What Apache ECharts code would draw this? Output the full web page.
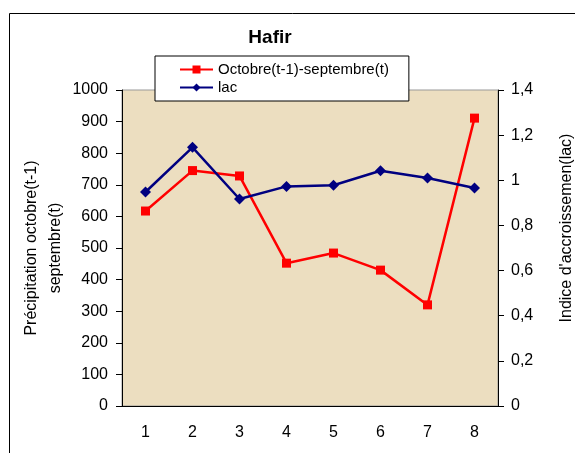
<!DOCTYPE html>
<html><head><meta charset="utf-8">
<script src="https://cdn.jsdelivr.net/npm/echarts@6/dist/echarts.min.js"></script>
<style>html,body{margin:0;padding:0;background:#fff}#c{width:575px;height:453px}</style>
</head><body><div id="c"></div>
<script>
const categories = ['1','2','3','4','5','6','7','8'];
const precipitation = [617, 745, 728, 452, 484, 430, 320, 911];
const lac = [0.948, 1.146, 0.917, 0.973, 0.978, 1.042, 1.010, 0.966];
const seriesNames = ['Octobre(t-1)-septembre(t)', 'lac'];
const leftAxisName = 'Précipitation octobre(t-1)\nseptembre(t)';
const rightAxisName = "Indice d'accroissemen(lac)";

const FONT = '"Liberation Sans", Arial, sans-serif';
const chart = echarts.init(document.getElementById('c'), null, {renderer: 'canvas'});
chart.setOption({
  backgroundColor: '#fff',
  animation: false,
  textStyle: {fontFamily: FONT},
  title: {
    text: 'Hafir', left: 265, top: 23, textAlign: 'center',
    textStyle: {fontFamily: FONT, fontSize: 19, fontWeight: 'bold', color: '#000'}
  },
  graphic: [{
    type: 'rect', left: 7, top: 11, z: -1,
    shape: {x: 0, y: 0, width: 620, height: 500},
    style: {fill: 'none', stroke: '#000', lineWidth: 1}
  }],
  legend: {
    orient: 'vertical', left: 155, top: 56,
    padding: [6, 20, 6, 24],
    itemGap: 3, itemWidth: 33, itemHeight: 10,
    backgroundColor: '#fff', borderColor: '#000', borderWidth: 1,
    textStyle: {fontFamily: FONT, fontSize: 15, color: '#000'},
    data: seriesNames
  },
  grid: {left: 122, right: 77, top: 90, bottom: 47, show: true,
    containLabel: false, outerBoundsMode: 'none',
    backgroundColor: '#ECDEC0', borderColor: '#999', borderWidth: 1},
  xAxis: {
    type: 'category', data: categories, boundaryGap: true,
    axisLine: {lineStyle: {color: '#000', width: 1}},
    axisTick: {length: 6, lineStyle: {color: '#000'}},
    axisLabel: {color: '#000', fontSize: 16, fontFamily: FONT, margin: 19},
    splitLine: {show: false}
  },
  yAxis: [{
    type: 'value', min: 0, max: 1000, interval: 100,
    name: leftAxisName, nameLocation: 'middle', nameGap: 54, nameRotate: 90,
    nameMoveOverlap: false,
    nameTextStyle: {fontFamily: FONT, fontSize: 16, color: '#000', lineHeight: 24},
    axisLine: {show: true, lineStyle: {color: '#000'}},
    axisTick: {show: true, length: 6, lineStyle: {color: '#000'}},
    axisLabel: {color: '#000', fontSize: 16, fontFamily: FONT, margin: 14,
      formatter: v => String(v)},
    splitLine: {show: false}
  }, {
    type: 'value', min: 0, max: 1.4, interval: 0.2, position: 'right',
    name: rightAxisName, nameLocation: 'middle', nameGap: 61, nameRotate: 90,
    nameMoveOverlap: false,
    nameTextStyle: {fontFamily: FONT, fontSize: 16, color: '#000', padding: [0, 0, 0, 40]},
    axisLine: {show: true, lineStyle: {color: '#000'}},
    axisTick: {show: true, length: 6, lineStyle: {color: '#000'}},
    axisLabel: {color: '#000', fontSize: 16, fontFamily: FONT, margin: 13,
      formatter: v => String(+v.toFixed(1)).replace('.', ',')},
    splitLine: {show: false}
  }],
  series: [{
    name: seriesNames[0], type: 'line', yAxisIndex: 0, data: precipitation,
    symbol: 'rect', symbolSize: 9,
    lineStyle: {color: '#FF0000', width: 2.5},
    itemStyle: {color: '#FF0000'}
  }, {
    name: seriesNames[1], type: 'line', yAxisIndex: 1, data: lac,
    symbol: 'diamond', symbolSize: 11,
    lineStyle: {color: '#000080', width: 2.5},
    itemStyle: {color: '#000080'}
  }]
});
</script></body></html>
